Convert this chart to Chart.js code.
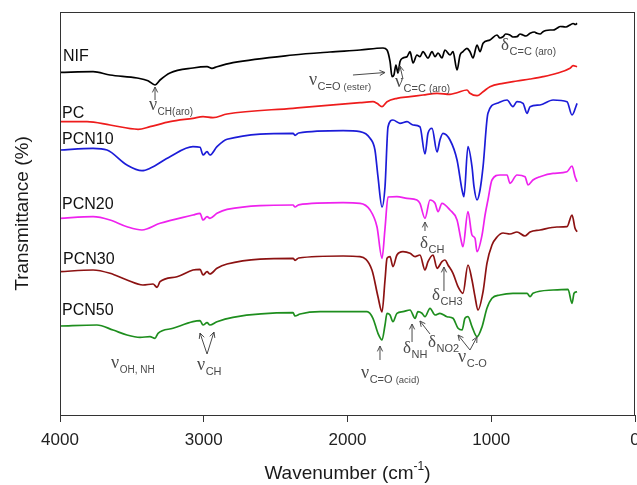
<!DOCTYPE html>
<html><head><meta charset="utf-8">
<script src="https://cdn.jsdelivr.net/npm/chart.js@4.4.0/dist/chart.umd.min.js"></script>
<style>html,body{margin:0;padding:0;background:#fff;}#wrap{width:637px;height:485px;}</style>
</head><body><div id="wrap"><canvas id="c" width="637" height="485"></canvas></div>
<script>
// x tick labels (wavenumber, cm-1)
const xTicks = [4000, 3000, 2000, 1000, 0];

// spectra: [wavenumber, offset transmittance (a.u.)]
const NIF = [[4000,34.27],[3770,34.33],[3652,34.0],[3464,33.7],[3388,33.43],[3339,33.0],[3304,33.5],[3235,34.2],[3075,34.7],[2977,34.83],[2943,34.67],[2908,34.83],[2797,35.23],[2379,36.0],[2122,36.3],[1913,36.5],[1753,36.7],[1725,36.5],[1704,35.33],[1690,33.83],[1677,34.0],[1663,35.0],[1649,34.2],[1635,35.33],[1614,35.7],[1586,35.83],[1565,36.33],[1544,35.2],[1517,36.0],[1496,35.83],[1475,36.33],[1440,35.7],[1412,36.33],[1391,35.83],[1370,36.2],[1343,35.7],[1322,36.5],[1287,36.0],[1266,36.33],[1238,34.5],[1217,36.0],[1197,36.33],[1169,36.67],[1148,36.33],[1127,35.7],[1099,37.0],[1078,36.33],[1057,37.17],[1009,37.5],[960,38.0],[940,37.7],[918,37.83],[900,38.1],[870,38.0],[850,37.8],[821,37.83],[800,38.1],[779,38.0],[760,37.9],[730,38.17],[700,38.3],[682,38.17],[660,38.1],[640,38.33],[620,38.45],[591,38.5],[570,38.5],[543,38.67],[520,38.85],[501,38.83],[480,38.8],[452,39.0],[430,39.15],[415,39.05],[403,39.17]];
const PC = [[4000,29.33],[3812,29.33],[3652,29.0],[3457,28.57],[3374,28.83],[3235,29.33],[3075,29.67],[3005,29.83],[2936,29.73],[2838,30.1],[2379,30.67],[1913,31.23],[1823,31.33],[1795,31.17],[1760,30.83],[1725,31.33],[1656,31.67],[1565,31.83],[1475,32.0],[1377,32.17],[1287,32.07],[1238,32.23],[1169,32.5],[1148,32.17],[1099,31.93],[1057,32.33],[1009,32.83],[918,33.17],[821,33.4],[730,33.6],[640,33.83],[543,34.17],[452,34.67],[431,34.93],[403,34.83]];
const PCN10 = [[4000,26.5],[3770,26.67],[3673,26.5],[3534,25.0],[3430,24.43],[3374,24.67],[3235,25.83],[3075,26.83],[3026,26.77],[3005,26.0],[2977,26.33],[2957,26.0],[2908,26.83],[2838,27.57],[2379,28.17],[2365,27.97],[2340,28.2],[2031,28.43],[1913,28.33],[1843,27.67],[1809,26.5],[1788,23.83],[1760,20.8],[1739,22.83],[1718,28.83],[1684,29.5],[1635,29.17],[1586,29.33],[1544,29.0],[1496,28.83],[1461,26.1],[1440,28.17],[1412,28.67],[1377,26.3],[1357,27.5],[1336,28.17],[1287,27.5],[1238,25.5],[1203,22.5],[1190,21.83],[1162,26.83],[1134,24.83],[1120,22.83],[1099,21.5],[1078,22.5],[1057,24.83],[1023,30.17],[960,31.17],[890,31.5],[849,30.83],[821,31.33],[779,31.17],[751,30.17],[730,30.83],[661,31.0],[570,31.5],[473,31.33],[438,30.0],[403,31.17]];
const PCN20 = [[4000,19.67],[3770,19.83],[3652,19.5],[3534,18.83],[3430,18.5],[3304,19.17],[3075,20.0],[3026,20.17],[3005,19.5],[2977,19.83],[2957,19.67],[2908,20.17],[2838,20.57],[2379,21.0],[2365,20.8],[2340,21.02],[2031,21.23],[1913,21.17],[1843,20.5],[1795,18.83],[1760,15.67],[1739,18.67],[1718,21.8],[1656,21.83],[1586,21.67],[1517,21.5],[1496,21.17],[1461,19.67],[1426,21.5],[1391,21.17],[1370,20.33],[1343,21.17],[1287,20.5],[1238,19.5],[1210,17.5],[1197,16.83],[1162,20.33],[1134,18.0],[1113,17.67],[1099,16.33],[1064,18.0],[1043,20.0],[1023,21.5],[995,23.5],[939,24.0],[890,24.0],[870,23.17],[821,24.0],[765,23.83],[744,23.0],[710,23.5],[661,23.83],[570,24.17],[473,24.33],[438,24.9],[417,23.83],[403,23.33]];
const PCN30 = [[4000,14.33],[3770,14.5],[3652,14.17],[3534,13.5],[3423,13.0],[3353,13.1],[3325,12.77],[3304,13.33],[3186,13.83],[3075,14.5],[3026,14.57],[3005,14.0],[2977,14.33],[2957,14.1],[2908,14.67],[2838,15.1],[2379,15.67],[2365,15.47],[2340,15.7],[2031,15.9],[1913,15.83],[1830,14.5],[1788,11.83],[1760,10.3],[1739,13.5],[1725,15.67],[1704,15.83],[1684,14.83],[1656,16.0],[1614,16.33],[1565,16.17],[1530,15.83],[1496,16.0],[1461,14.5],[1440,15.33],[1405,16.0],[1377,14.67],[1343,15.33],[1322,15.5],[1301,15.0],[1266,14.17],[1231,12.83],[1197,12.17],[1162,15.0],[1134,13.5],[1113,11.83],[1092,10.5],[1057,12.33],[1030,15.17],[995,17.0],[960,17.8],[918,18.2],[870,18.1],[821,18.3],[765,17.9],[730,18.3],[661,18.5],[543,18.8],[473,18.83],[438,20.0],[417,18.67],[403,18.33]];
const PCN50 = [[4000,8.9],[3743,9.0],[3631,8.5],[3534,8.0],[3443,7.77],[3374,7.83],[3339,7.67],[3318,8.17],[3214,8.67],[3075,9.33],[3026,9.43],[3005,9.0],[2977,9.23],[2957,9.0],[2908,9.33],[2797,9.77],[2379,10.23],[2365,9.9],[2330,10.1],[2191,10.33],[1864,10.33],[1823,9.67],[1788,8.17],[1760,7.5],[1739,9.0],[1725,10.17],[1704,10.0],[1684,9.33],[1656,10.17],[1614,10.33],[1565,10.5],[1530,9.67],[1510,10.33],[1482,10.17],[1461,9.83],[1426,10.67],[1391,10.0],[1357,10.17],[1308,9.83],[1266,9.67],[1231,8.67],[1203,8.5],[1183,9.67],[1162,9.83],[1134,8.83],[1099,7.83],[1064,8.83],[1030,10.67],[995,11.67],[939,12.0],[849,12.17],[751,12.17],[730,11.83],[710,12.17],[570,12.5],[466,12.57],[438,11.17],[424,12.17],[403,12.33]];

const seriesNames = ['NIF', 'PC', 'PCN10', 'PCN20', 'PCN30', 'PCN50'];
const seriesData = [NIF, PC, PCN10, PCN20, PCN30, PCN50];
const seriesColors = ['#000000', '#ee1c1c', '#1c1cd8', '#ee22ee', '#8c1212', '#1e8e1e'];
// name label anchors [wavenumber, value]
const nameAnchors = [[3979,35.8],[3986,30.15],[3986,27.5],[3986,21.0],[3979,15.5],[3986,10.4]];

// peak assignment annotations: main glyph, subscript, anchor (baseline), arrows [from,to]
const annotations = [
  {m:'ν', s:[['CH(aro)',10]], at:[3381,30.5], arrows:[[[3339,31.5],[3339,32.8]]]},
  {m:'ν', s:[['C=O ',11],['(ester)',9.5]], at:[2268,33.0], arrows:[[[1962,34.0],[1739,34.25]]]},
  {m:'ν', s:[['C=C ',11],['(aro)',10]], at:[1670,32.8], arrows:[[[1614,33.6],[1635,34.9]]]},
  {m:'δ', s:[['C=C ',11],['(aro)',10]], at:[932,36.5], arrows:[]},
  {m:'δ', s:[['CH',11]], at:[1496,16.7], arrows:[[[1461,18.4],[1461,19.3]]]},
  {m:'δ', s:[['CH3',11]], at:[1412,11.5], arrows:[[[1329,12.4],[1329,14.8]]]},
  {m:'δ', s:[['NH',11]], at:[1614,6.2], arrows:[[[1551,7.3],[1551,9.1]]]},
  {m:'δ', s:[['NO2',11]], at:[1440,6.8], arrows:[[[1426,8.1],[1496,9.4]]]},
  {m:'ν', s:[['C-O',11]], at:[1231,5.3], arrows:[[[1148,6.5],[1231,8.0]],[[1148,6.5],[1099,7.8]]]},
  {m:'ν', s:[['C=O ',11],['(acid)',9.5]], at:[1906,3.7], arrows:[[[1774,5.5],[1774,6.9]]]},
  {m:'ν', s:[['OH, NH',10]], at:[3645,4.7], arrows:[]},
  {m:'ν', s:[['CH',11]], at:[3047,4.5], arrows:[[[2977,6.1],[3026,8.2]],[[2977,6.1],[2929,8.3]]]}
];

const SANS = '"Liberation Sans", Arial, sans-serif';
const SERIF = '"Liberation Serif", "Times New Roman", serif';

function arrow(ctx, x1, y1, x2, y2) {
  ctx.beginPath(); ctx.moveTo(x1, y1); ctx.lineTo(x2, y2); ctx.stroke();
  const a = Math.atan2(y2 - y1, x2 - x1), L = 6, w = 0.45;
  ctx.beginPath();
  ctx.moveTo(x2 - L * Math.cos(a - w), y2 - L * Math.sin(a - w));
  ctx.lineTo(x2, y2);
  ctx.lineTo(x2 - L * Math.cos(a + w), y2 - L * Math.sin(a + w));
  ctx.stroke();
}

const decor = {
  id: 'decor',
  afterDatasetsDraw(chart) {
    const {ctx, chartArea: ca, scales: {x, y}} = chart;
    ctx.save();
    // frame
    ctx.strokeStyle = '#333'; ctx.lineWidth = 1;
    ctx.strokeRect(ca.left + 0.5, ca.top + 0.5, ca.right - ca.left - 1, ca.bottom - ca.top);
    // series names
    ctx.fillStyle = '#111'; ctx.font = '16px ' + SANS; ctx.textBaseline = 'middle'; ctx.textAlign = 'left';
    seriesNames.forEach((n, i) => {
      ctx.fillText(n, x.getPixelForValue(nameAnchors[i][0]), y.getPixelForValue(nameAnchors[i][1]));
    });
    // annotations
    ctx.textBaseline = 'alphabetic';
    annotations.forEach(a => {
      const px = x.getPixelForValue(a.at[0]), py = y.getPixelForValue(a.at[1]);
      ctx.fillStyle = '#4a4a4a';
      ctx.font = (a.m === 'ν' ? '18px ' : '17px ') + SERIF;
      ctx.fillText(a.m, px, py);
      let cx = px + ctx.measureText(a.m).width + 0.5;
      a.s.forEach(([t, sz]) => {
        ctx.font = sz + 'px ' + SANS;
        ctx.fillText(t, cx, py + 5);
        cx += ctx.measureText(t).width;
      });
      ctx.strokeStyle = '#4a4a4a'; ctx.lineWidth = 1;
      a.arrows.forEach(([f, t]) => {
        arrow(ctx, x.getPixelForValue(f[0]), y.getPixelForValue(f[1]), x.getPixelForValue(t[0]), y.getPixelForValue(t[1]));
      });
    });
    // axis titles
    ctx.fillStyle = '#1a1a1a';
    ctx.font = '19px ' + SANS;
    ctx.textBaseline = 'middle';
    const cxm = (ca.left + ca.right) / 2;
    const t1 = 'Wavenumber (cm', t2 = '-1', t3 = ')';
    const w1 = ctx.measureText(t1).width, w3 = ctx.measureText(t3).width;
    ctx.font = '12px ' + SANS; const w2 = ctx.measureText(t2).width;
    let sx = cxm - (w1 + w2 + w3) / 2;
    ctx.font = '19px ' + SANS; ctx.textAlign = 'left';
    ctx.fillText(t1, sx, 474);
    ctx.font = '12px ' + SANS; ctx.fillText(t2, sx + w1, 467);
    ctx.font = '19px ' + SANS; ctx.fillText(t3, sx + w1 + w2, 474);
    ctx.translate(23, (ca.top + ca.bottom) / 2);
    ctx.rotate(-Math.PI / 2);
    ctx.textAlign = 'center';
    ctx.fillText('Transmittance (%)', 0, 0);
    ctx.restore();
  }
};

new Chart(document.getElementById('c'), {
  type: 'scatter',
  data: {
    datasets: seriesData.map((d, i) => ({
      label: seriesNames[i],
      data: d.map(p => ({x: p[0], y: p[1]})),
      showLine: true, borderColor: seriesColors[i], borderWidth: 1.7,
      pointRadius: 0, cubicInterpolationMode: 'monotone', fill: false
    }))
  },
  options: {
    responsive: false, animation: false, devicePixelRatio: 1,
    layout: {padding: {top: 12, right: 2, left: 0, bottom: 0}},
    plugins: {legend: {display: false}, tooltip: {enabled: false}},
    scales: {
      x: {
        type: 'linear', min: 0, max: 4000, reverse: true,
        afterBuildTicks: s => { s.ticks = xTicks.map(v => ({value: v})); },
        afterFit: s => { s.height = 70; s.paddingLeft = 0; s.paddingRight = 0; },
        ticks: {callback: v => String(v), font: {family: SANS, size: 17}, color: '#222', padding: 8, maxRotation: 0, autoSkip: false},
        grid: {display: true, drawOnChartArea: false, drawTicks: true, tickLength: 7, color: '#333'},
        border: {display: false}
      },
      y: {
        type: 'linear', min: 0, max: 40.3,
        afterFit: s => { s.width = 60; },
        ticks: {display: false},
        grid: {display: false},
        border: {display: false}
      }
    }
  },
  plugins: [decor]
});
</script></body></html>
